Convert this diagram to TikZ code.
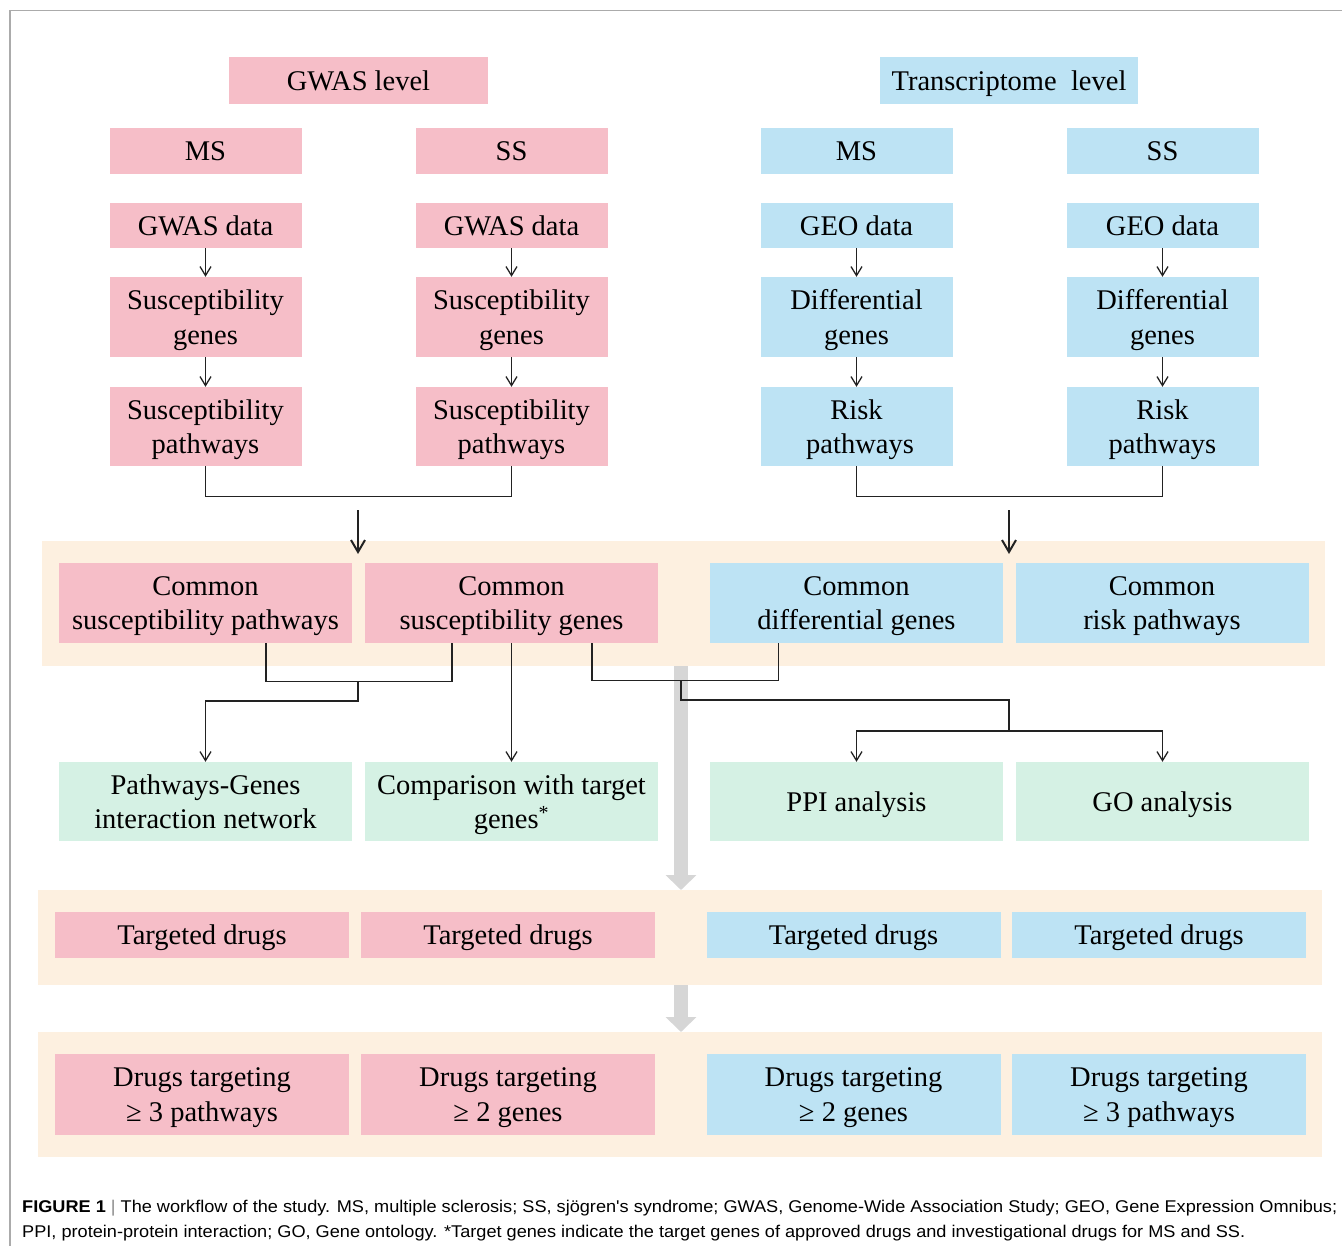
\documentclass[tikz,border=0pt]{standalone}
\usepackage{fontspec}
\setmainfont{Liberation Serif}
\newfontfamily\capfont{Liberation Sans}
\usetikzlibrary{arrows.meta,calc}
\definecolor{pinkc}{HTML}{F6BEC8}
\definecolor{bluec}{HTML}{BDE3F4}
\definecolor{greenc}{HTML}{D5F1E4}
\definecolor{bandc}{HTML}{FDF0E0}
\definecolor{grayarr}{HTML}{D6D6D6}
\definecolor{framec}{HTML}{ABABAB}
\definecolor{linec}{HTML}{222222}
\definecolor{captc}{HTML}{2A2A2A}
\definecolor{barc}{HTML}{888888}
\newsavebox\capboxA
\newsavebox\capboxB
\newlength\capwdA
\begin{document}
\sbox\capboxA{\capfont\fontsize{17}{20}\selectfont\textbf{FIGURE 1}\ \textcolor{barc}{|}\ The workflow of the study. MS, multiple sclerosis; SS, sjögren's syndrome; GWAS, Genome-Wide Association Study; GEO, Gene Expression Omnibus;}%
\sbox\capboxB{\capfont\fontsize{17}{20}\selectfont PPI, protein-protein interaction; GO, Gene ontology. *Target genes indicate the target genes of approved drugs and investigational drugs for MS and SS.}%
\setlength\capwdA{\wd\capboxA}%
\pgfmathsetmacro\capsc{1315/\capwdA}%
\begin{tikzpicture}[x=1pt,y=-1pt,
  boxbase/.style={inner sep=0pt, align=center, text depth=0pt, font=\fontsize{28.5}{34.5}\selectfont, text=black},
  pinkbox/.style={boxbase, fill=pinkc},
  bluebox/.style={boxbase, fill=bluec},
  greenbox/.style={boxbase, fill=greenc},
  colw/.style={minimum width=192pt},
  widew/.style={minimum width=293pt},
  conn/.style={draw=linec, line width=1.3pt},
  arr/.style={conn, -{Straight Barb[length=9pt,width=11pt]}},
  bigarr/.style={draw=linec, line width=2pt, -{Straight Barb[length=12pt,width=14pt]}},
  band/.style={fill=bandc, inner sep=0pt, anchor=north west},
  grayflow/.style={draw=grayarr, line width=14pt, -{Triangle[length=15pt,width=30pt]}}
]
\fill[white] (0,0) rectangle (1342,1246);
\useasboundingbox (0,0) rectangle (1342,1246);
\draw[framec, line width=1.5pt] (1342,10.5) -- (10,10.5) -- (10,1246);

% bands
\node[band, minimum width=1283pt, minimum height=125pt] (band1) at (42,541) {};
\node[band, minimum width=1284pt, minimum height=95pt] (band2) at (38,890) {};
\node[band, minimum width=1284pt, minimum height=125pt] (band3) at (38,1032) {};

% gray flow arrows
\coordinate (g1s) at (681,666);
\coordinate (g1e) at (681,890);
\coordinate (g2s) at (681,985);
\coordinate (g2e) at (681,1032);
\draw[grayflow] (g1s) -- (g1e);
\draw[grayflow] (g2s) -- (g2e);

% headers
\node[pinkbox, minimum width=259pt, minimum height=47pt] (gwas) at (358.5,80.5) {GWAS level};
\node[bluebox, minimum width=258pt, minimum height=47pt] (trans) at (1009,80.5) {Transcriptome\ \ level};

% disease row
\node[pinkbox, colw, minimum height=46pt] (ms1) at (205.5,151) {MS};
\node[pinkbox, colw, minimum height=46pt] (ss1) at (511.5,151) {SS};
\node[bluebox, colw, minimum height=46pt] (ms2) at (856.5,151) {MS};
\node[bluebox, colw, minimum height=46pt] (ss2) at (1162.5,151) {SS};

% data row
\node[pinkbox, colw, minimum height=45pt] (gd1) at (205.5,225.5) {GWAS data};
\node[pinkbox, colw, minimum height=45pt] (gd2) at (511.5,225.5) {GWAS data};
\node[bluebox, colw, minimum height=45pt] (geo1) at (856.5,225.5) {GEO data};
\node[bluebox, colw, minimum height=45pt] (geo2) at (1162.5,225.5) {GEO data};

% genes row
\node[pinkbox, colw, minimum height=80pt] (sg1) at (205.5,317) {Susceptibility\\genes};
\node[pinkbox, colw, minimum height=80pt] (sg2) at (511.5,317) {Susceptibility\\genes};
\node[bluebox, colw, minimum height=80pt] (dg1) at (856.5,317) {Differential\\genes};
\node[bluebox, colw, minimum height=80pt] (dg2) at (1162.5,317) {Differential\\genes};

% pathways row
\node[pinkbox, colw, minimum height=79pt] (sp1) at (205.5,426.5) {Susceptibility\\pathways};
\node[pinkbox, colw, minimum height=79pt] (sp2) at (511.5,426.5) {Susceptibility\\pathways};
\node[bluebox, colw, minimum height=79pt] (rp1) at (856.5,426.5) {Risk\\\ pathways};
\node[bluebox, colw, minimum height=79pt] (rp2) at (1162.5,426.5) {Risk\\pathways};

% common row
\node[pinkbox, widew, minimum height=80pt] (csp) at (205.5,603) {Common\\susceptibility pathways};
\node[pinkbox, widew, minimum height=80pt] (csg) at (511.5,603) {Common\\susceptibility genes};
\node[bluebox, widew, minimum height=80pt] (cdg) at (856.5,603) {Common\\differential genes};
\node[bluebox, widew, minimum height=80pt] (crp) at (1162,603) {Common\\risk pathways};

% analysis row
\node[greenbox, widew, minimum height=79pt] (pgn) at (205.5,801.5) {Pathways-Genes\\interaction network};
\node[greenbox, widew, minimum height=79pt] (cmp) at (511.5,801.5) {Comparison with target\\genes\textsuperscript{*}};
\node[greenbox, widew, minimum height=79pt] (ppi) at (856.5,801.5) {PPI analysis};
\node[greenbox, widew, minimum height=79pt] (goa) at (1162.5,801.5) {GO analysis};

% targeted drugs row
\node[pinkbox, minimum width=294pt, minimum height=46pt] (td1) at (202,935) {Targeted drugs};
\node[pinkbox, minimum width=294pt, minimum height=46pt] (td2) at (508,935) {Targeted drugs};
\node[bluebox, minimum width=294pt, minimum height=46pt] (td3) at (853.5,935) {Targeted drugs};
\node[bluebox, minimum width=294pt, minimum height=46pt] (td4) at (1159,935) {Targeted drugs};

% drugs targeting row
\node[pinkbox, minimum width=294pt, minimum height=81pt] (dt1) at (202,1094.5) {Drugs targeting\\≥ 3 pathways};
\node[pinkbox, minimum width=294pt, minimum height=81pt] (dt2) at (508,1094.5) {Drugs targeting\\≥ 2 genes};
\node[bluebox, minimum width=294pt, minimum height=81pt] (dt3) at (853.5,1094.5) {Drugs targeting\\≥ 2 genes};
\node[bluebox, minimum width=294pt, minimum height=81pt] (dt4) at (1159,1094.5) {Drugs targeting\\≥ 3 pathways};

% column arrows
\draw[arr] (gd1) -- (sg1);
\draw[arr] (gd2) -- (sg2);
\draw[arr] (geo1) -- (dg1);
\draw[arr] (geo2) -- (dg2);
\draw[arr] (sg1) -- (sp1);
\draw[arr] (sg2) -- (sp2);
\draw[arr] (dg1) -- (rp1);
\draw[arr] (dg2) -- (rp2);

% brackets
\draw[conn] (sp1.south) -- ++(0,30) -| (sp2.south);
\draw[conn] (rp1.south) -- ++(0,30) -| (rp2.south);
\coordinate (a1s) at (358,510);
\coordinate (a1e) at (358,554);
\coordinate (a2s) at (1009,510);
\coordinate (a2e) at (1009,554);
\draw[bigarr] (a1s) -- (a1e);
\draw[bigarr] (a2s) -- (a2e);

% lower connectors
\draw[conn] ([xshift=60.5pt]csp.south) -- ++(0,38) -| ([xshift=-59.5pt]csg.south);
\coordinate (j1) at (358,681);
\draw[arr] (j1) -- ++(0,20) -| (pgn.north);
\draw[arr] (csg) -- (cmp);
\draw[conn] ([xshift=80.5pt]csg.south) -- ++(0,37) -| ([xshift=-78pt]cdg.south);
\coordinate (j2) at (681,680);
\coordinate (j3) at (1009,731);
\draw[conn] (j2) -- ++(0,20) -| (j3);
\draw[arr] (j3) -| (ppi.north);
\draw[arr] (j3) -| (goa.north);

% caption
\node[anchor=base west, inner sep=0pt, text=captc] (cap1) at (22,1212) {\scalebox{\capsc}[1]{\usebox\capboxA}};
\node[anchor=base west, inner sep=0pt, text=captc] (cap2) at (22,1237) {\scalebox{\capsc}[1]{\usebox\capboxB}};
\end{tikzpicture}
\end{document}
